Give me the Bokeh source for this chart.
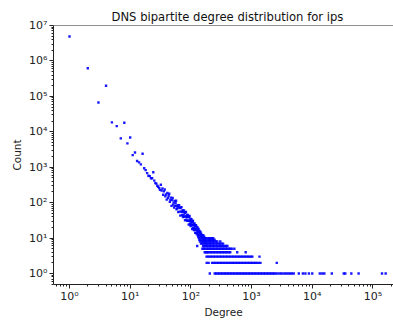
from bokeh.plotting import figure
from bokeh.models import FixedTicker, CustomJSTickFormatter, Range1d, Span
from bokeh.embed import file_html
from bokeh.resources import INLINE

# ---- data (degree -> number of ips with that degree) ----
head_degree = list(range(1, 180))
head_count = [
    4900000, 620000, 67000, 200000, 18500, 14500, 6500, 18000, 4700, 6900,      # 1-10
    2200, 2600, 1500, 1370, 1200, 2400, 940, 830, 680, 575,                     # 11-20
    560, 490, 490, 725, 420, 355, 345, 300, 280, 257,                           # 21-30
    230, 320, 221, 253, 167, 208, 235, 152, 171, 122,                           # 31-40
    187, 134, 157, 178, 105, 120, 139, 81, 118, 135,                            # 41-50
    88, 100, 73, 112, 81, 96, 113, 65, 79, 69,                                  # 51-60
    85, 54, 74, 85, 56, 70, 43, 73, 56, 75,                                     # 61-70
    45, 55, 61, 39, 54, 44, 60, 40, 51, 32,                                     # 71-80
    53, 41, 55, 33, 40, 45, 31, 39, 45, 31,                                     # 81-90
    39, 24, 40, 31, 42, 25, 30, 35, 22, 30,                                     # 91-100
    25, 34, 23, 29, 18, 30, 24, 31, 19, 23,                                     # 101-110
    26, 17, 23, 19, 26, 17, 22, 14, 23, 18,                                     # 111-120
    23, 14, 18, 21, 13, 17, 6, 15, 20, 12,                                      # 121-130
    16, 11, 14, 18, 10, 15, 12, 9, 16, 13,                                      # 131-140
    8, 14, 11, 15, 9, 12, 7, 13, 10, 11,                                        # 141-150
    8, 12, 7, 10, 5, 11, 8, 9, 6, 12,                                           # 151-160
    7, 10, 5, 9, 8, 11, 6, 9, 4, 10,                                            # 161-170
    7, 8, 5, 9, 6, 10, 4, 8, 7,                                                 # 171-179
]

# tail: degrees (>= 180) whose count is a small integer, one list per count
tail_deg_count1 = [205, 247, 261, 276, 292, 309, 327, 346, 366, 387, 410, 434, 459, 486,
                   514, 544, 576, 609, 645, 682, 722, 764, 808, 855, 905, 957, 1013,
                   1072, 1134, 1200, 1270, 1344, 1422, 1504, 1592, 1684, 1782, 1886,
                   1995, 2111, 2234, 2363, 2500, 2700, 2950, 3150, 3450, 3700, 4000,
                   4300, 4600, 4950, 6000, 7000, 7700, 8800, 10000, 13300, 14600,
                   15800, 21000, 33000, 35000, 44000, 58000, 141000, 162000]
tail_deg_count2 = [182, 196, 224, 237, 251, 265, 281, 297, 314, 332, 352, 372, 394, 417,
                   441, 467, 494, 522, 553, 585, 619, 655, 693, 733, 776, 821, 868, 919,
                   972, 1028, 1090, 1150, 1220, 1310, 1400, 2600]
tail_deg_count3 = [181, 191, 202, 214, 226, 239, 253, 268, 283, 300, 317, 335, 355, 375,
                   397, 420, 444, 470, 497, 526, 557, 589, 623, 659, 697, 738, 780, 826,
                   873, 924, 977, 1030, 1350]
tail_deg_count4 = [183, 193, 203, 215, 227, 240, 254, 269, 284, 301, 318, 336, 356, 376,
                   398, 421, 445, 580, 800]
tail_deg_count5 = [184, 194, 204, 216, 228, 241, 255, 270, 285, 302, 319, 337, 357, 377,
                   399, 422, 446, 471, 520]
tail_deg_count6 = [185, 195, 206, 217, 229, 242, 256, 271, 286, 303, 320, 338, 358, 378, 400]
tail_deg_count7 = [186, 197, 207, 218, 230, 243, 257, 272, 287, 304, 321, 339]
tail_deg_count8 = [187, 198, 208, 219, 231, 244, 258, 273, 305]
tail_deg_count9 = [188, 199, 209, 220, 232, 245]
tail_deg_count10 = [189, 200, 210, 221, 233]

x_major_ticks = [1, 10, 100, 1000, 10000, 100000]
y_major_ticks = [1, 10, 100, 1000, 10000, 100000, 1000000, 10000000]

# ---- assemble ----
degree = list(head_degree)
count = list(head_count)
for c, lst in [(1, tail_deg_count1), (2, tail_deg_count2), (3, tail_deg_count3),
               (4, tail_deg_count4), (5, tail_deg_count5), (6, tail_deg_count6),
               (7, tail_deg_count7), (8, tail_deg_count8), (9, tail_deg_count9),
               (10, tail_deg_count10)]:
    degree += lst
    count += [c] * len(lst)

FONT = "DejaVu Sans"

p = figure(width=393, height=320, x_axis_type="log", y_axis_type="log",
           x_range=Range1d(0.545, 2.18e5), y_range=Range1d(0.49, 1e7),
           output_backend="svg", toolbar_location=None,
           title="DNS bipartite degree distribution for ips",
           min_border_left=53, min_border_right=0, min_border_top=25, min_border_bottom=20)

p.scatter(degree, count, marker="square", size=2.4, fill_color="#0000ff",
          line_color=None, fill_alpha=0.9)

p.xgrid.visible = False
p.ygrid.visible = False
p.outline_line_color = None
p.background_fill_color = "white"
p.border_fill_color = "white"

# top spine
p.add_layout(Span(location=1e7, dimension="width", line_color="#222222", line_width=1))

fmt = CustomJSTickFormatter(code="""
const sup = ["\u2070","\u00b9","\u00b2","\u00b3","\u2074","\u2075","\u2076","\u2077","\u2078","\u2079"];
const e = Math.round(Math.log10(tick));
let s = "";
for (const ch of String(e)) { s += (ch === "-") ? "\u207b" : sup[+ch]; }
return "10" + s;
""")

x_minor = [m * 10.0 ** e for e in range(-1, 6) for m in range(2, 10)]
y_minor = [m * 10.0 ** e for e in range(-1, 7) for m in range(2, 10)]
p.xaxis.ticker = FixedTicker(ticks=x_major_ticks, minor_ticks=x_minor)
p.yaxis.ticker = FixedTicker(ticks=y_major_ticks, minor_ticks=y_minor)

for ax in (p.xaxis[0], p.yaxis[0]):
    ax.formatter = fmt
    ax.axis_line_color = "#222222"
    ax.major_tick_line_color = "#222222"
    ax.minor_tick_line_color = "#222222"
    ax.major_tick_in = 0
    ax.major_tick_out = 4
    ax.minor_tick_in = 0
    ax.minor_tick_out = 2
    ax.major_label_text_font = FONT
    ax.major_label_text_font_size = "11px"
    ax.major_label_text_color = "#222222"
    ax.major_label_standoff = 2
    ax.axis_label_text_font = FONT
    ax.axis_label_text_font_size = "10.5px"
    ax.axis_label_text_font_style = "normal"
    ax.axis_label_text_color = "#222222"
    ax.axis_label_standoff = 3

p.xaxis.major_label_standoff = 1
p.xaxis.axis_label_standoff = 0

p.xaxis.axis_label = "Degree"
p.yaxis.axis_label = "Count"

p.title.text_font = FONT
p.title.text_font_size = "11.6px"
p.title.text_font_style = "normal"
p.title.text_color = "#111111"
p.title.align = "left"
p.title.offset = 58
p.title.standoff = 3

open("out.html", "w").write(file_html(p, INLINE))
